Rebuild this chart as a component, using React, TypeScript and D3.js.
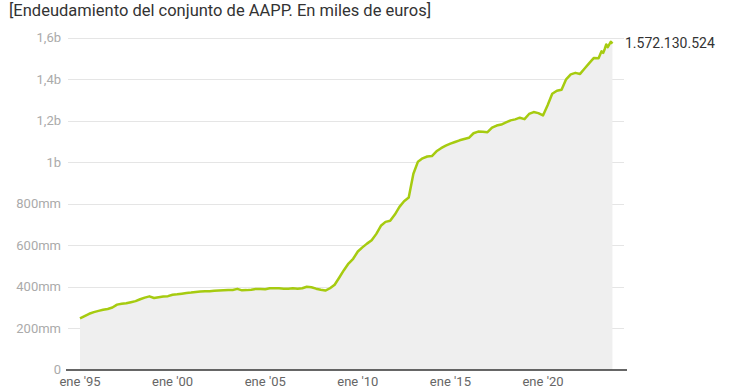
import React from "react";
import * as d3 from "d3";

const WIDTH = 740;
const HEIGHT = 389;
const TITLE = "[Endeudamiento del conjunto de AAPP. En miles de euros]";

// quarterly values (bn €), first quarter 1995 to last quarter 2022
const QUARTER_START = "1995-01-01";
const quarterlyDebt = [
  248, 259, 270, 278, 284, 289, 293, 300, 314, 318, 321, 326, 331, 340, 348, 354,
  346, 350, 353, 355, 362, 364, 367, 370, 372, 375, 377, 378, 379, 381, 382, 383,
  384, 385, 390, 383, 384, 386, 390, 389, 388, 393, 393, 393, 391, 391, 393, 391,
  393, 400, 398, 391, 386, 382, 393, 410, 445, 480, 512, 535, 570, 590, 608, 624,
  655, 694, 713, 718, 748, 785, 812, 830, 945, 1003, 1019, 1028, 1030, 1053, 1068, 1080,
  1090, 1098, 1106, 1112, 1118, 1140, 1148, 1147, 1145, 1167, 1177, 1182, 1192, 1202, 1207, 1215,
  1208, 1233, 1242, 1237, 1226, 1275, 1330, 1345, 1350, 1400, 1424, 1431, 1426, 1452, 1478, 1503,
];
// monthly values for 2023 (bn €)
const MONTH_START = "2023-01-01";
const monthlyDebt = [1502, 1519, 1535, 1527, 1545, 1568, 1555, 1568, 1581, 1572.130524];
const LAST_LABEL = "1.572.130.524";

const yTicks = [0, 200, 400, 600, 800, 1000, 1200, 1400, 1600];
const xTickYears = [1995, 2000, 2005, 2010, 2015, 2020];

const LINE_COLOR = "#a6cb10";
const FONT = "Roboto, 'Noto Sans', sans-serif";

function fmtY(v: number) {
  if (v === 0) return "0";
  if (v < 1000) return `${v}mm`;
  return `${d3.format(".1~f")(v / 1000).replace(".", ",")}b`;
}

export default function App() {
  const q0 = new Date(QUARTER_START);
  const m0 = new Date(MONTH_START);
  const data = [
    ...quarterlyDebt.map((v, i) => ({ date: d3.timeMonth.offset(q0, i * 3), value: v })),
    ...monthlyDebt.map((v, i) => ({ date: d3.timeMonth.offset(m0, i), value: v })),
  ];
  const last = data[data.length - 1];

  const x = d3
    .scaleTime()
    .domain([new Date("1995-01-01"), new Date("2020-01-01")])
    .range([80, 543]);
  const y = d3.scaleLinear().domain([0, 1600]).range([369.8, 37.8]);

  const line = d3
    .line<{ date: Date; value: number }>()
    .x((d) => x(d.date))
    .y((d) => y(d.value));
  const area = d3
    .area<{ date: Date; value: number }>()
    .x((d) => x(d.date))
    .y0(y(0))
    .y1((d) => y(d.value));

  return (
    <svg
      width={WIDTH}
      height={HEIGHT}
      style={{ position: "absolute", left: 0, top: 0, background: "#fff" }}
      fontFamily={FONT}
    >
      <text x={9} y={16} fontSize={16.5} fill="#333">
        {TITLE}
      </text>
      {yTicks.map((t) => (
        <g key={t}>
          {t > 0 && (
            <line x1={68} x2={624} y1={Math.round(y(t)) + 0.5} y2={Math.round(y(t)) + 0.5} stroke="#e5e5e5" />
          )}
          <text x={61} y={y(t)} dy="0.35em" textAnchor="end" fontSize={13} fill="#aaa">
            {fmtY(t)}
          </text>
        </g>
      ))}
      <path d={area(data) ?? ""} fill="#efefef" />
      <path d={line(data) ?? ""} fill="none" stroke={LINE_COLOR} strokeWidth={2.5} strokeLinejoin="round" />
      <line x1={66} x2={627} y1={370} y2={370} stroke="#333" strokeWidth={1.5} />
      {xTickYears.map((yr) => (
        <text
          key={yr}
          x={x(new Date(`${yr}-01-01`))}
          y={385.5}
          textAnchor="middle"
          fontSize={13}
          fill="#666"
        >
          {`ene '${String(yr).slice(2)}`}
        </text>
      ))}
      <text x={625} y={y(last.value)} dy="0.35em" fontSize={14} fill="#333">
        {LAST_LABEL}
      </text>
    </svg>
  );
}
